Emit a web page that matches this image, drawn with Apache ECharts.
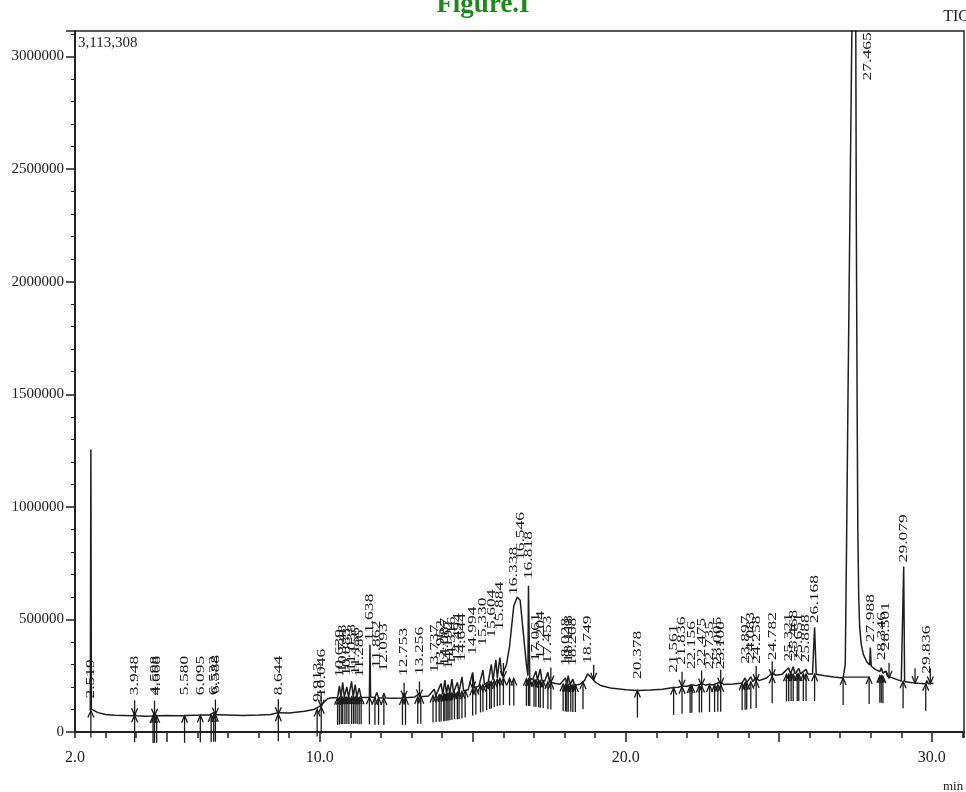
<!DOCTYPE html>
<html>
<head>
<meta charset="utf-8">
<title>TIC</title>
<script src="https://cdn.jsdelivr.net/npm/echarts@6/dist/echarts.min.js"></script>
<style>
  html, body { margin: 0; padding: 0; background: #fff; }
  #main { width: 966px; height: 792px; }
</style>
</head>
<body>
<div id="main"></div>
<script>
// chromatogram trace, time (min) and intensity
var traceTimes = [
  2.50, 2.519, 2.535, 2.60, 2.75, 3.00, 3.30, 3.60, 3.90, 3.948, 4.00, 4.30, 4.55, 4.598, 4.63, 4.668, 4.72,
  5.00, 5.30, 5.55, 5.58, 5.62, 5.90, 6.06, 6.095, 6.13, 6.40, 6.532, 6.56, 6.588, 6.63, 7.00, 7.50, 8.00,
  8.40, 8.644, 8.70, 9.00, 9.50, 9.80, 9.913, 9.97, 10.046, 10.12, 10.25, 10.40, 10.58, 10.639, 10.69,
  10.748, 10.80, 10.883, 10.94, 11.038, 11.09, 11.156, 11.21, 11.286, 11.35, 11.50, 11.62, 11.638, 11.66,
  11.80, 11.862, 11.92, 12.05, 12.093, 12.15, 12.40, 12.70, 12.753, 12.80, 13.10, 13.256, 13.30, 13.55,
  13.737, 13.79, 13.85, 13.962, 14.02, 14.087, 14.14, 14.192, 14.25, 14.316, 14.37, 14.494, 14.55, 14.644,
  14.70, 14.85, 14.994, 15.05, 15.20, 15.33, 15.38, 15.50, 15.604, 15.66, 15.754, 15.80, 15.884, 15.95,
  16.10, 16.20, 16.338, 16.45, 16.546, 16.65, 16.75, 16.80, 16.818, 16.86, 16.95, 17.061, 17.11, 17.204,
  17.26, 17.35, 17.453, 17.51, 17.70, 17.85, 18.028, 18.07, 18.118, 18.17, 18.268, 18.32, 18.50, 18.65,
  18.749, 18.85, 19.00, 19.20, 19.50, 20.00, 20.378, 20.80, 21.20, 21.561, 21.70, 21.836, 22.00, 22.156,
  22.30, 22.475, 22.60, 22.735, 22.85, 23.005, 23.05, 23.10, 23.20, 23.50, 23.80, 23.897, 23.95, 24.083,
  24.15, 24.258, 24.35, 24.60, 24.782, 24.90, 25.10, 25.321, 25.38, 25.468, 25.53, 25.651, 25.71, 25.888,
  25.95, 26.10, 26.168, 26.22, 26.50, 26.80, 27.10, 27.17, 27.21, 27.26, 27.33, 27.40, 27.465, 27.51,
  27.53, 27.56, 27.58, 27.61, 27.64, 27.69, 27.76, 27.88, 27.97, 27.988, 28.02, 28.15, 28.30, 28.346,
  28.40, 28.501, 28.55, 28.80, 29.00, 29.06, 29.079, 29.11, 29.30, 29.55, 29.80, 29.836, 29.88, 30.05
];
var traceValues = [
  95000, 1255000, 102000, 96000, 86000, 78000, 74000, 73000, 72000, 82000, 72000, 70000, 71000, 84000, 74000, 82000, 72000,
  73000, 72000, 72000, 80000, 73000, 74000, 74000, 82000, 75000, 76000, 86000, 77000, 85000, 77000, 76000, 73000, 75000,
  78000, 86000, 80000, 84000, 92000, 100000, 108000, 104000, 118000, 130000, 148000, 152000, 152000, 205000, 155000,
  220000, 156000, 200000, 155000, 225000, 156000, 210000, 156000, 195000, 154000, 153000, 154000, 387000, 155000,
  152000, 175000, 152000, 151000, 172000, 151000, 150000, 151000, 172000, 152000, 155000, 172000, 157000, 160000,
  190000, 163000, 165000, 215000, 167000, 230000, 170000, 210000, 172000, 235000, 175000, 220000, 178000, 245000,
  182000, 188000, 265000, 195000, 205000, 275000, 212000, 220000, 300000, 230000, 320000, 240000, 330000, 250000,
  300000, 380000, 560000, 600000, 585000, 440000, 300000, 250000, 650000, 240000, 232000, 270000, 230000, 280000,
  228000, 226000, 265000, 222000, 215000, 212000, 240000, 210000, 250000, 210000, 235000, 208000, 212000, 228000,
  258000, 245000, 222000, 205000, 195000, 188000, 184000, 186000, 190000, 198000, 199000, 203000, 203000, 210000,
  206000, 214000, 208000, 212000, 209000, 218000, 210000, 222000, 211000, 213000, 218000, 240000, 220000, 245000,
  224000, 242000, 228000, 240000, 262000, 252000, 256000, 285000, 258000, 290000, 258000, 282000, 258000, 278000,
  258000, 258000, 465000, 256000, 250000, 244000, 240000, 300000, 800000, 1500000, 2400000, 3300000, 3700000, 3300000,
  2300000, 1400000, 900000, 600000, 470000, 390000, 345000, 310000, 298000, 375000, 292000, 278000, 268000, 285000,
  262000, 270000, 248000, 236000, 226000, 225000, 735000, 224000, 220000, 216000, 214000, 228000, 214000, 216000
];

// integrator baseline drawn under the main peak
var baseSegTimes = [27.10, 27.95];
var baseSegValues = [244000, 244000];

// peak labels: text, x position, value of label foot
var labelTexts = [
  '2.519', '3.948', '4.598', '4.668', '5.580', '6.095', '6.532', '6.588', '8.644', '9.913', '10.046',
  '10.639', '10.748', '10.883', '11.038', '11.156', '11.286', '11.638', '11.862', '12.093', '12.753', '13.256',
  '13.737', '13.962', '14.087', '14.192', '14.316', '14.494', '14.644', '14.994', '15.330', '15.604', '15.884',
  '16.338', '16.546', '16.818', '17.061', '17.204', '17.453', '18.028', '18.118', '18.268', '18.749', '20.378',
  '21.561', '21.836', '22.156', '22.475', '22.735', '23.005', '23.100', '23.897', '24.083', '24.258', '24.782',
  '25.321', '25.468', '25.651', '25.888', '26.168', '27.465', '27.988', '28.346', '28.501', '29.079', '29.836'
];
var labelTimes = [
  2.519, 3.948, 4.598, 4.668, 5.580, 6.095, 6.532, 6.588, 8.644, 9.913, 10.046,
  10.639, 10.748, 10.883, 11.038, 11.156, 11.286, 11.638, 11.862, 12.093, 12.753, 13.256,
  13.737, 13.962, 14.087, 14.192, 14.316, 14.494, 14.644, 14.994, 15.330, 15.604, 15.884,
  16.338, 16.546, 16.818, 17.061, 17.204, 17.453, 18.028, 18.118, 18.268, 18.749, 20.378,
  21.561, 21.836, 22.156, 22.475, 22.735, 23.005, 23.100, 23.897, 24.083, 24.258, 24.782,
  25.321, 25.468, 25.651, 25.888, 26.168, 27.90, 27.988, 28.346, 28.501, 29.079, 29.836
];
var labelValues = [
  135000, 150000, 150000, 150000, 150000, 150000, 150000, 155000, 150000, 120000, 142000,
  230000, 250000, 235000, 255000, 240000, 230000, 390000, 270000, 255000, 235000, 240000,
  250000, 270000, 280000, 265000, 285000, 300000, 300000, 330000, 370000, 405000, 440000,
  595000, 750000, 665000, 300000, 310000, 290000, 280000, 295000, 280000, 290000, 222000,
  250000, 285000, 265000, 280000, 265000, 285000, 265000, 290000, 305000, 290000, 305000,
  300000, 315000, 300000, 295000, 470000, 2880000, 385000, 305000, 350000, 740000, 245000
];

// peak start/end markers [time, level]
var upArrows = [
  [2.519, 95000], [3.948, 74000], [4.55, 71000], [4.598, 72000], [4.668, 72000], [5.58, 72000], [6.095, 74000],
  [6.45, 76000], [6.532, 77000], [6.588, 77000], [8.644, 79000], [9.913, 100000], [10.046, 112000],
  [10.58, 152000], [10.639, 153000], [10.70, 154000], [10.748, 155000], [10.82, 155000], [10.883, 155000],
  [10.95, 155000], [11.038, 156000], [11.10, 156000], [11.156, 156000], [11.22, 155000], [11.286, 154000],
  [11.35, 154000], [11.62, 154000], [11.80, 152000], [11.92, 152000], [12.093, 151000], [12.70, 151000],
  [12.80, 152000], [13.20, 156000], [13.30, 157000], [13.70, 162000], [13.80, 164000], [13.90, 165000],
  [13.962, 166000], [14.05, 168000], [14.087, 169000], [14.15, 170000], [14.192, 171000], [14.25, 172000],
  [14.316, 174000], [14.40, 176000], [14.494, 177000], [14.55, 178000], [14.644, 180000], [14.75, 184000],
  [14.994, 193000], [15.10, 198000], [15.25, 207000], [15.33, 210000], [15.45, 217000], [15.55, 222000],
  [15.604, 224000], [15.70, 230000], [15.80, 235000], [15.884, 238000], [16.00, 240000], [16.20, 238000],
  [16.338, 238000], [16.75, 236000], [16.818, 236000], [16.86, 235000], [17.00, 232000], [17.061, 231000],
  [17.15, 230000], [17.204, 228000], [17.30, 226000], [17.453, 222000], [17.55, 220000], [17.95, 212000],
  [18.028, 211000], [18.07, 210000], [18.118, 210000], [18.20, 210000], [18.268, 209000], [18.35, 209000],
  [18.60, 222000], [20.378, 184000], [21.561, 196000], [21.836, 201000], [22.10, 204000], [22.156, 205000],
  [22.40, 207000], [22.475, 207000], [22.735, 209000], [22.90, 209000], [23.005, 210000], [23.10, 210000],
  [23.80, 217000], [23.897, 219000], [23.95, 220000], [24.083, 223000], [24.258, 226000], [24.782, 248000],
  [25.25, 256000], [25.321, 257000], [25.40, 258000], [25.468, 258000], [25.60, 258000], [25.651, 258000],
  [25.80, 258000], [25.888, 258000], [26.168, 257000], [27.10, 240000], [27.95, 244000], [28.30, 250000],
  [28.346, 250000], [28.40, 248000], [29.06, 225000], [29.80, 214000]
];
var downArrows = [
  [3.948, 74000], [4.598, 72000], [6.588, 77000], [8.644, 79000], [10.046, 112000], [12.753, 152000],
  [13.256, 158000], [14.994, 193000], [16.00, 240000], [17.55, 220000], [18.95, 232000], [21.836, 201000],
  [22.475, 207000], [23.10, 210000], [24.258, 226000], [24.782, 248000], [28.60, 240000], [29.45, 217000],
  [29.95, 215000]
];

// axis ticks with labels
var xLabelValues = [2, 10, 20, 30];
var xMajorTicks = [5, 10, 15, 20, 25, 30];

var chartDom = document.getElementById('main');
var myChart = echarts.init(chartDom);
var option;

var serif = '"Liberation Serif", "DejaVu Serif", serif';

var traceData = traceTimes.map(function (t, i) { return [t, traceValues[i]]; });
var baseSegData = baseSegTimes.map(function (t, i) { return [t, baseSegValues[i]]; });
var labelData = labelTimes.map(function (t, i) { return [t, labelValues[i]]; });
var arrowData = upArrows.map(function (a) { return [a[0], a[1], 1]; })
  .concat(downArrows.map(function (a) { return [a[0], a[1], -1]; }));

function renderArrow(params, api) {
  var p = api.coord([api.value(0), api.value(1)]);
  var dir = api.value(2);
  var len = dir > 0 ? 27 : 15;
  return {
    type: 'group',
    children: [
      {
        type: 'line',
        shape: { x1: p[0], y1: p[1] + dir * len, x2: p[0], y2: p[1] },
        style: { stroke: '#1a1a1a', lineWidth: 1.3 }
      },
      {
        type: 'polyline',
        shape: { points: [[p[0] - 3, p[1] + dir * 7], [p[0], p[1]], [p[0] + 3, p[1] + dir * 7]] },
        style: { stroke: '#1a1a1a', lineWidth: 1.3, fill: null }
      }
    ]
  };
}

function renderLabel(params, api) {
  var p = api.coord([api.value(0), api.value(1)]);
  return {
    type: 'text',
    x: p[0],
    y: p[1] - 3,
    rotation: Math.PI / 2,
    scaleX: 1.35,
    style: {
      text: labelTexts[params.dataIndex],
      font: '13px ' + serif,
      fill: '#1a1a1a',
      align: 'left',
      verticalAlign: 'middle'
    }
  };
}

option = {
  backgroundColor: '#fff',
  animation: false,
  grid: {
    left: 75,
    right: 2,
    top: 31,
    bottom: 60,
    show: true,
    borderColor: '#222',
    borderWidth: 1.5,
    backgroundColor: 'transparent'
  },
  graphic: [
    {
      type: 'text', left: 'center', top: -8,
      style: { text: 'Figure.I', font: 'bold 27px ' + serif, fill: '#1b8a1b' }
    },
    {
      type: 'text', right: -3, top: 9,
      style: { text: 'TIC', font: '16px ' + serif, fill: '#222' }
    },
    {
      type: 'text', left: 78, top: 36,
      style: { text: '3,113,308', font: '15px ' + serif, fill: '#222' }
    },
    {
      type: 'text', left: 943, top: 780,
      style: { text: 'min', font: '13px ' + serif, fill: '#222' }
    }
  ],
  xAxis: [
    {
      type: 'value',
      min: 2,
      max: 31.05,
      interval: 1,
      splitLine: { show: false },
      axisLine: { show: true, lineStyle: { color: '#222', width: 2 } },
      axisTick: { show: true, length: 6, lineStyle: { color: '#222', width: 1.5 } },
      axisLabel: {
        customValues: xLabelValues,
        margin: 18,
        fontFamily: serif,
        fontSize: 16,
        color: '#222',
        formatter: function (v) { return v.toFixed(1); }
      }
    },
    {
      type: 'value',
      position: 'bottom',
      min: 2,
      max: 31.05,
      splitLine: { show: false },
      axisLine: { show: false },
      axisLabel: { show: false },
      axisTick: {
        show: true, length: 10, customValues: xMajorTicks,
        lineStyle: { color: '#222', width: 1.5 }
      }
    }
  ],
  yAxis: {
    type: 'value',
    min: 0,
    max: 3113308,
    interval: 500000,
    splitLine: { show: false },
    axisLine: { show: true, lineStyle: { color: '#222', width: 2 } },
    axisTick: { show: true, length: 9, lineStyle: { color: '#222', width: 1.5 } },
    minorTick: { show: true, splitNumber: 5, length: 4, lineStyle: { color: '#222', width: 1 } },
    axisLabel: {
      showMaxLabel: false,
      margin: 11,
      fontFamily: serif,
      fontSize: 15,
      color: '#222',
      formatter: function (v) { return String(v); }
    }
  },
  series: [
    {
      type: 'line',
      data: traceData,
      showSymbol: false,
      symbol: 'none',
      lineStyle: { color: '#1e1e1e', width: 1.5 },
      z: 3
    },
    {
      type: 'line',
      data: baseSegData,
      showSymbol: false,
      symbol: 'none',
      lineStyle: { color: '#1e1e1e', width: 1.2 },
      z: 3
    },
    {
      type: 'custom',
      data: arrowData,
      renderItem: renderArrow,
      z: 4
    },
    {
      type: 'custom',
      data: labelData,
      renderItem: renderLabel,
      z: 5
    }
  ]
};

option && myChart.setOption(option);
</script>
</body>
</html>
